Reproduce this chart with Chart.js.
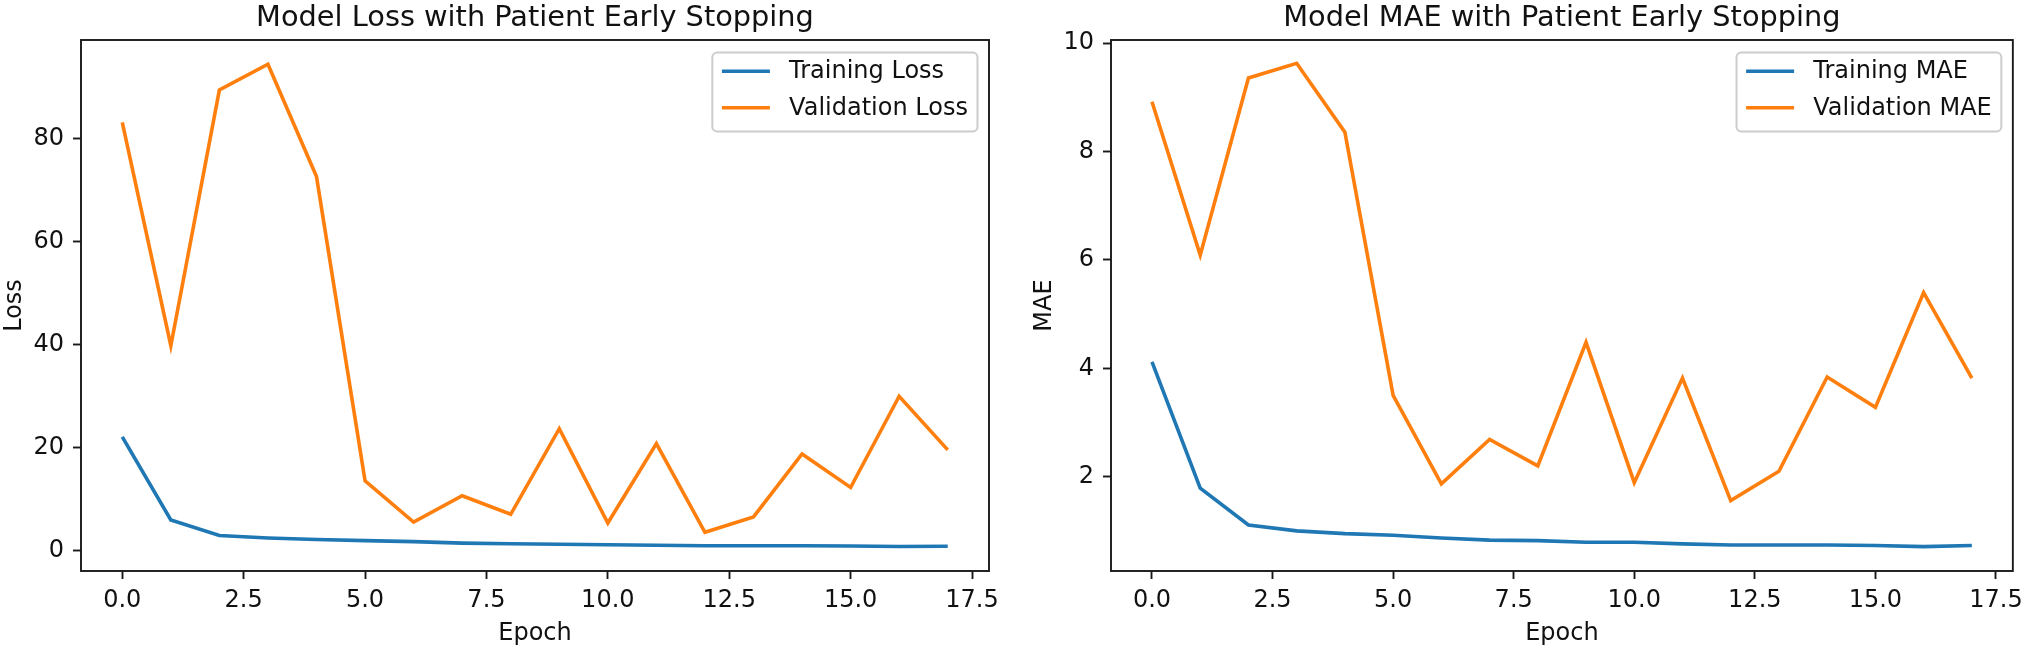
<!DOCTYPE html>
<html><head><meta charset="utf-8">
<script src="https://cdn.jsdelivr.net/npm/chart.js@4/dist/chart.umd.min.js"></script>
<style>
html,body{margin:0;padding:0;background:#fff;overflow:hidden}
#wrap{position:relative;width:2030px;height:649px;background:#fff}
canvas{position:absolute;top:0}
</style></head><body>
<div id="wrap">
<canvas id="c1" width="1015" height="649" style="left:0px"></canvas>
<canvas id="c2" width="1015" height="649" style="left:1015px"></canvas>
</div>
<script>
// ---- data ----
const epochs = [0, 1, 2, 3, 4, 5, 6, 7, 8, 9, 10, 11, 12, 13, 14, 15, 16, 17];
const trainLoss = [22.1, 6.0, 3.0, 2.5, 2.2, 2.0, 1.8, 1.5, 1.4, 1.3, 1.2, 1.1, 1.0, 1.0, 1.0, 0.95, 0.85, 0.9];
const valLoss = [83.1, 39.8, 89.4, 94.4, 72.6, 13.6, 5.6, 10.7, 7.1, 23.7, 5.4, 20.8, 3.6, 6.6, 18.8, 12.3, 30.0, 19.6];
const trainMae = [4.12, 1.79, 1.11, 1.00, 0.95, 0.92, 0.87, 0.83, 0.82, 0.79, 0.79, 0.76, 0.74, 0.74, 0.74, 0.73, 0.71, 0.73];
const valMae = [8.92, 6.09, 9.36, 9.63, 8.36, 3.50, 1.87, 2.69, 2.20, 4.48, 1.89, 3.82, 1.56, 2.10, 3.84, 3.28, 5.40, 3.82];

const xTicks = [0, 2.5, 5, 7.5, 10, 12.5, 15, 17.5];
const xTickLabels = ['0.0', '2.5', '5.0', '7.5', '10.0', '12.5', '15.0', '17.5'];
const lossTicks = [0, 20, 40, 60, 80];
const lossTickLabels = ['0', '20', '40', '60', '80'];
const maeTicks = [2, 4, 6, 8, 10];
const maeTickLabels = ['2', '4', '6', '8', '10'];

const lossTitle = 'Model Loss with Patient Early Stopping';
const maeTitle = 'Model MAE with Patient Early Stopping';
const lossLabels = ['Training Loss', 'Validation Loss'];
const maeLabels = ['Training MAE', 'Validation MAE'];

// ---- styles ----
const BLUE = '#1f77b4', ORANGE = '#ff7f0e';
const TXT = '#111111', SPINE = '#1a1a1a';
const FONT = '"DejaVu Sans", sans-serif';
Chart.defaults.font.family = FONT;
Chart.defaults.color = TXT;

const frameAndLegend = {
  id: 'frameAndLegend',
  afterDatasetsDraw(chart) {
    const ctx = chart.ctx, a = chart.chartArea;
    ctx.save();
    ctx.strokeStyle = SPINE; ctx.lineWidth = 1.9;
    ctx.strokeRect(a.left, a.top, a.right - a.left, a.bottom - a.top);
    ctx.font = '24px ' + FONT;
    const ds = chart.data.datasets;
    const textW = Math.max(...ds.map(d => ctx.measureText(d.label).width));
    const pad = 9.6, handle = 48, gap = 19.2;
    const w = pad + handle + gap + textW + pad, h = 79;
    const right = a.right - 11.5, top = a.top + 12.5, left = right - w;
    const r = 4.8;
    ctx.beginPath();
    ctx.moveTo(left + r, top);
    ctx.lineTo(right - r, top); ctx.arcTo(right, top, right, top + r, r);
    ctx.lineTo(right, top + h - r); ctx.arcTo(right, top + h, right - r, top + h, r);
    ctx.lineTo(left + r, top + h); ctx.arcTo(left, top + h, left, top + h - r, r);
    ctx.lineTo(left, top + r); ctx.arcTo(left, top, left + r, top, r);
    ctx.closePath();
    ctx.fillStyle = 'rgba(255,255,255,0.8)'; ctx.fill();
    ctx.strokeStyle = '#cccccc'; ctx.lineWidth = 2; ctx.stroke();
    ds.forEach((d, i) => {
      const y = top + 18.7 + i * 36.6;
      ctx.beginPath();
      ctx.moveTo(left + pad, y); ctx.lineTo(left + pad + handle, y);
      ctx.strokeStyle = d.borderColor; ctx.lineWidth = 3.6; ctx.stroke();
      ctx.fillStyle = TXT; ctx.textBaseline = 'middle'; ctx.textAlign = 'left';
      ctx.fillText(d.label, left + pad + handle + gap, y + 1);
    });
    ctx.restore();
  }
};

function makeChart(id, title, labels, train, val, yMin, yMax, yTicks, yTickLabels, yTitle, yAxisW, padRight, yTitlePad) {
  const toPts = arr => epochs.map((e, i) => ({x: e, y: arr[i]}));
  return new Chart(document.getElementById(id), {
    type: 'line',
    data: {
      datasets: [
        {label: labels[0], data: toPts(train), borderColor: BLUE, backgroundColor: BLUE, borderWidth: 3.6, pointRadius: 0, tension: 0, fill: false},
        {label: labels[1], data: toPts(val), borderColor: ORANGE, backgroundColor: ORANGE, borderWidth: 3.6, pointRadius: 0, tension: 0, fill: false}
      ]
    },
    options: {
      responsive: false, animation: false, devicePixelRatio: 1,
      layout: {padding: {left: 0, right: padRight, top: 0, bottom: 0}},
      plugins: {
        legend: {display: false}, tooltip: {enabled: false},
        title: {display: true, text: title, fullSize: false, color: TXT,
          font: {size: 28.8, weight: 'normal', family: FONT, lineHeight: 1.2},
          padding: {top: 0.8, bottom: 4.64}}
      },
      scales: {
        x: {
          type: 'linear', min: -0.85, max: 17.85,
          afterBuildTicks: s => { s.ticks = xTicks.map(v => ({value: v})); },
          afterFit: s => { s.height = 78; },
          ticks: {autoSkip: false, maxRotation: 0, minRotation: 0, padding: 7, color: TXT,
            font: {size: 24, family: FONT},
            callback: (v, i) => xTickLabels[i]},
          grid: {display: true, drawOnChartArea: false, drawTicks: true, tickLength: 8, tickWidth: 1.9, tickColor: SPINE},
          border: {display: false},
          title: {display: true, text: 'Epoch', color: TXT, font: {size: 24, family: FONT, lineHeight: 1.2}, padding: {top: 0, bottom: 1}}
        },
        y: {
          type: 'linear', min: yMin, max: yMax,
          afterBuildTicks: s => { s.ticks = yTicks.map(v => ({value: v})); },
          afterFit: s => { s.width = yAxisW; },
          ticks: {autoSkip: false, padding: 9, color: TXT, font: {size: 24, family: FONT},
            callback: (v, i) => yTickLabels[i]},
          grid: {display: true, drawOnChartArea: false, drawTicks: true, tickLength: 8, tickWidth: 1.9, tickColor: SPINE},
          border: {display: false},
          title: {display: true, text: yTitle, color: TXT, font: {size: 24, family: FONT, lineHeight: 1.2}, padding: {top: yTitlePad, bottom: 0}}
        }
      }
    },
    plugins: [frameAndLegend]
  });
}

makeChart('c1', lossTitle, lossLabels, trainLoss, valLoss, -3.9, 99.1, lossTicks, lossTickLabels, 'Loss', 81, 26, 0.2);
makeChart('c2', maeTitle, maeLabels, trainMae, valMae, 0.26, 10.06, maeTicks, maeTickLabels, 'MAE', 96, 10, 15.5);
</script>
</body></html>
